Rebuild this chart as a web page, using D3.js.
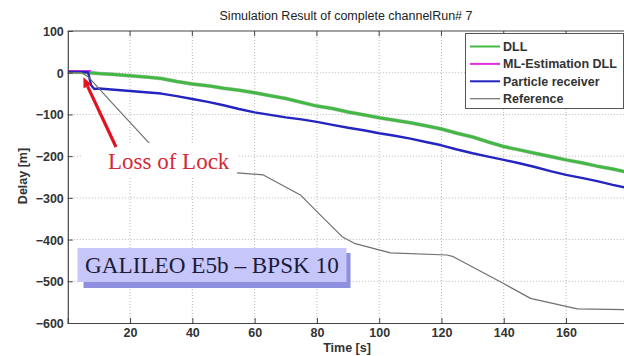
<!DOCTYPE html>
<html>
<head>
<meta charset="utf-8">
<script src="https://cdn.jsdelivr.net/npm/d3@7"></script>
<style>
  html, body { margin: 0; padding: 0; background: #fff; }
  svg { display: block; }
</style>
</head>
<body>
<svg id="chart" width="624" height="356"></svg>
<script>
// ---- data ----
const xTicks = [20, 40, 60, 80, 100, 120, 140, 160];
const yTicks = [100, 0, -100, -200, -300, -400, -500, -600];

const dllTime  = [0, 5, 7, 10, 15, 20, 25, 30, 35, 40, 45, 50, 55, 60, 65, 70, 75, 80, 85, 90, 95, 100, 105, 110, 115, 120, 125, 130, 135, 140, 145, 150, 155, 160, 165, 170, 175, 180];
const dllDelay = [2, 1, 0, -2, -4, -7, -10, -14, -21, -27, -31, -37, -42, -48, -55, -62, -71, -80, -86, -94, -101, -108, -114, -120, -127, -135, -145, -154, -166, -177, -185, -193, -201, -209, -216, -224, -231, -239];

const mlTime  = [0, 3, 5, 7.5];
const mlDelay = [4, 4, 4, 4];

const particleTime  = [0, 4, 6.5, 7.5, 8.5, 10, 15, 20, 25, 30, 35, 40, 45, 50, 55, 60, 65, 70, 75, 80, 85, 90, 95, 100, 105, 110, 115, 120, 125, 130, 135, 140, 145, 150, 155, 160, 165, 170, 175, 180];
const particleDelay = [2, 2, 1, -30, -39, -38, -41, -44, -47, -50, -56, -63, -70, -78, -87, -95, -101, -107, -112, -118, -125, -132, -138, -145, -151, -158, -166, -174, -184, -193, -201, -209, -217, -226, -236, -245, -252, -260, -269, -277];

const refTime  = [0, 4.5, 6.6, 15, 26.5, 32, 40, 48, 54.5, 62.8, 68, 74.7, 80, 88.1, 92, 103.6, 121.8, 123.8, 138.9, 148.6, 163.6, 180];
const refDelay = [0, 0, -10, -79, -172, -205, -228, -238, -240, -245, -266, -293, -333, -393, -409, -432, -437, -441, -501, -541, -566, -568];

const seriesNames  = ["DLL", "ML-Estimation DLL", "Particle receiver", "Reference"];
const seriesColors = ["#44b844", "#e030e0", "#2424c0", "#707070"];

// ---- layout ----
const svg = d3.select("#chart");
const x = d3.scaleLinear().domain([0, 180]).range([67.8, 628.3]);
const y = d3.scaleLinear().domain([-600, 100]).range([323, 31]);
const plotL = x(0), plotR = x(180), plotT = y(100), plotB = y(-600);

svg.append("defs").append("clipPath").attr("id", "plotclip")
  .append("rect").attr("x", plotL).attr("y", plotT)
  .attr("width", plotR - plotL).attr("height", plotB - plotT);

// grid
const grid = svg.append("g");
grid.selectAll("line.vx").data(xTicks).join("line")
  .attr("x1", d => x(d)).attr("x2", d => x(d))
  .attr("y1", plotT).attr("y2", plotB)
  .attr("stroke", "#b8b8b8").attr("stroke-width", 1).attr("stroke-dasharray", "1,2");
grid.selectAll("line.hy").data(yTicks.filter(d => d !== 100 && d !== -600)).join("line")
  .attr("x1", plotL).attr("x2", plotR)
  .attr("y1", d => y(d)).attr("y2", d => y(d))
  .attr("stroke", "#b8b8b8").attr("stroke-width", 1).attr("stroke-dasharray", "1,2");

// series
const seriesData = [
  d3.zip(dllTime, dllDelay),
  d3.zip(mlTime, mlDelay),
  d3.zip(particleTime, particleDelay),
  d3.zip(refTime, refDelay)
];
const widths = [3, 2, 2.4, 1.2];
const line = d3.line().x(d => x(d[0])).y(d => y(d[1]));
const lines = svg.append("g").attr("clip-path", "url(#plotclip)");
// soft grey edge under the DLL trace
lines.append("path").attr("d", line(seriesData[0]))
  .attr("fill", "none").attr("stroke", "#8aa08a").attr("stroke-width", 4).attr("opacity", 0.5);
seriesData.forEach((s, i) => {
  lines.append("path").attr("d", line(s))
    .attr("fill", "none").attr("stroke", seriesColors[i])
    .attr("stroke-width", widths[i]).attr("stroke-linejoin", "round");
});

// axes
const axisColor = "#444";
const xAxis = svg.append("g").attr("transform", `translate(0,${plotB})`)
  .call(d3.axisBottom(x).tickValues(xTicks).tickSize(-5).tickPadding(5).tickFormat(d3.format("d")));
const yAxis = svg.append("g").attr("transform", `translate(${plotL},0)`)
  .call(d3.axisLeft(y).tickValues(yTicks).tickSize(-5).tickPadding(4).tickFormat(d3.format("d")));
[xAxis, yAxis].forEach(a => {
  a.select(".domain").attr("stroke", axisColor).attr("stroke-width", 1.2);
  a.selectAll(".tick line").attr("stroke", axisColor);
  a.selectAll("text").attr("font-family", "Liberation Sans, Arial, sans-serif")
    .attr("font-size", 12.5).attr("font-weight", "bold").attr("fill", "#333");
});
yAxis.selectAll("text").attr("dy", "0.36em");
// top border with ticks
svg.append("line").attr("x1", plotL).attr("x2", plotR).attr("y1", plotT).attr("y2", plotT)
  .attr("stroke", axisColor).attr("stroke-width", 1.2);
svg.append("g").selectAll("line").data(xTicks).join("line")
  .attr("x1", d => x(d)).attr("x2", d => x(d)).attr("y1", plotT).attr("y2", plotT + 5)
  .attr("stroke", axisColor);

// titles
svg.append("text").attr("x", 346).attr("y", 20).attr("text-anchor", "middle")
  .attr("font-family", "Liberation Sans, Arial, sans-serif").attr("font-size", 12.5)
  .attr("fill", "#222").text("Simulation Result of complete channelRun# 7");
svg.append("text").attr("x", 347).attr("y", 352).attr("text-anchor", "middle")
  .attr("font-family", "Liberation Sans, Arial, sans-serif").attr("font-size", 12.5)
  .attr("font-weight", "bold").attr("fill", "#333").text("Time [s]");
svg.append("text").attr("transform", "translate(27,176) rotate(-90)").attr("text-anchor", "middle")
  .attr("font-family", "Liberation Sans, Arial, sans-serif").attr("font-size", 12.5)
  .attr("font-weight", "bold").attr("fill", "#333").text("Delay [m]");

// "Loss of Lock" annotation on a white label
svg.append("rect").attr("x", 82).attr("y", 143).attr("width", 155).attr("height", 34).attr("fill", "#fff");
svg.append("text").attr("x", 108).attr("y", 168.5).attr("font-family", "Liberation Serif, Times New Roman, serif")
  .attr("font-size", 23).attr("fill", "#d42a35").text("Loss of Lock");
// arrow pointing at the loss-of-lock instant
const tip = [x(5), y(-11)], tail = [116, 147];
const ang = Math.atan2(tip[1] - tail[1], tip[0] - tail[0]);
const headLen = 10, headW = 4.5;
const base = [tip[0] - headLen * Math.cos(ang), tip[1] - headLen * Math.sin(ang)];
svg.append("line").attr("x1", tail[0]).attr("y1", tail[1]).attr("x2", base[0]).attr("y2", base[1])
  .attr("stroke", "#e0141e").attr("stroke-width", 3.2);
svg.append("path").attr("fill", "#e0141e").attr("d",
  `M${tip[0]},${tip[1]} L${base[0] + headW * Math.sin(ang)},${base[1] - headW * Math.cos(ang)} L${base[0] - headW * Math.sin(ang)},${base[1] + headW * Math.cos(ang)} Z`);

// signal label box
svg.append("rect").attr("x", 83.5).attr("y", 253).attr("width", 267).attr("height", 35).attr("fill", "#8f8fe0");
svg.append("rect").attr("x", 77.5).attr("y", 248).attr("width", 269).attr("height", 34).attr("fill", "#c6c6fa");
svg.append("text").attr("x", 85).attr("y", 272.5).attr("font-family", "Liberation Serif, Times New Roman, serif")
  .attr("font-size", 23.2).attr("fill", "#1c1c38").text("GALILEO E5b \u2013 BPSK 10");

// legend
const lg = svg.append("g");
lg.append("rect").attr("x", 465.5).attr("y", 33.5).attr("width", 158).attr("height", 75)
  .attr("fill", "#fff").attr("stroke", "#555").attr("stroke-width", 1);
seriesNames.forEach((n, i) => {
  const ly = 46.5 + i * 17.4;
  lg.append("line").attr("x1", 470).attr("x2", 500).attr("y1", ly).attr("y2", ly)
    .attr("stroke", seriesColors[i]).attr("stroke-width", i === 3 ? 1.2 : 2);
  lg.append("text").attr("x", 503).attr("y", ly).attr("dy", "0.36em")
    .attr("font-family", "Liberation Sans, Arial, sans-serif").attr("font-size", 12.5)
    .attr("font-weight", "bold").attr("fill", "#333").text(n);
});
</script>
</body>
</html>
